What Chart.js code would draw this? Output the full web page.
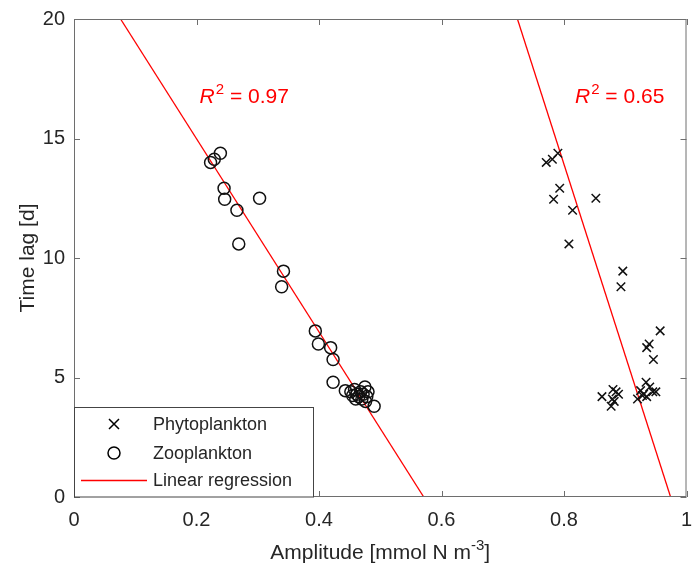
<!DOCTYPE html>
<html>
<head>
<meta charset="utf-8">
<script src="https://cdn.jsdelivr.net/npm/chart.js@4"></script>
<style>
  html, body { margin: 0; padding: 0; background: #fff; }
  #wrap { width: 694px; height: 574px; }
</style>
</head>
<body>
<div id="wrap"><canvas id="lagChart" width="694" height="574"></canvas></div>
<script>
// time lag per station (shared by both groups)
const lagDays = [14.0, 14.13, 14.38, 12.92, 12.46, 12.5, 12.0, 10.59, 9.45, 8.8,
  6.95, 6.4, 6.25, 5.75, 4.8, 4.45, 4.4, 4.5, 4.3, 4.2,
  4.4, 4.1, 4.3, 4.6, 4.2, 4.4, 3.8, 4.0, 4.25, 4.1];
const zooAmp = [0.223, 0.229, 0.239, 0.245, 0.246, 0.303, 0.266, 0.269, 0.342, 0.339,
  0.394, 0.399, 0.419, 0.423, 0.423, 0.443, 0.452, 0.458, 0.462, 0.465,
  0.468, 0.470, 0.472, 0.475, 0.478, 0.480, 0.490, 0.476, 0.455, 0.460];
const phytoAmp = [0.771, 0.781, 0.790, 0.793, 0.783, 0.852, 0.814, 0.808, 0.896, 0.893,
  0.957, 0.939, 0.935, 0.946, 0.934, 0.925, 0.950, 0.880, 0.889, 0.862,
  0.885, 0.879, 0.930, 0.940, 0.935, 0.945, 0.877, 0.882, 0.928, 0.920];

// regression line end points
const regLag = [20, 0];
const regZooAmp = [0.076, 0.571];
const regPhytoAmp = [0.724, 0.974];
const r2Values = ["0.97", "0.65"];

const xTicks = [0, 0.2, 0.4, 0.6, 0.8, 1];
const yTicks = [0, 5, 10, 15, 20];

const FONT = "'Liberation Sans', Arial, Helvetica, sans-serif";
const AXIS_COLOR = "#6e6e6e";
const TEXT_COLOR = "#262626";

const toPoints = (xs, ys) => xs.map((v, i) => ({ x: v, y: ys[i] }));

// box, inward ticks, axis titles, R^2 labels and legend (MATLAB look)
const matlabAxes = {
  id: "matlabAxes",
  afterDraw(chart) {
    const { ctx, chartArea: { left, right, top, bottom }, scales: { x, y } } = chart;
    ctx.save();
    ctx.strokeStyle = AXIS_COLOR;
    ctx.lineWidth = 1;
    ctx.strokeRect(left + 0.5, top + 0.5, right - left - 1, bottom - top - 1);
    ctx.beginPath();
    xTicks.forEach(v => {
      const px = Math.round(x.getPixelForValue(v)) + 0.5;
      ctx.moveTo(px, bottom); ctx.lineTo(px, bottom - 6);
      ctx.moveTo(px, top); ctx.lineTo(px, top + 6);
    });
    yTicks.forEach(v => {
      const py = Math.round(y.getPixelForValue(v)) + 0.5;
      ctx.moveTo(left, py); ctx.lineTo(left + 6, py);
      ctx.moveTo(right, py); ctx.lineTo(right - 6, py);
    });
    ctx.stroke();

    // x title with superscript
    ctx.fillStyle = TEXT_COLOR;
    ctx.textBaseline = "alphabetic";
    const xMain = "Amplitude [mmol N m";
    const xSup = "-3";
    const xEnd = "]";
    ctx.font = `21px ${FONT}`;
    const w1 = ctx.measureText(xMain).width;
    const w3 = ctx.measureText(xEnd).width;
    ctx.font = `15px ${FONT}`;
    const w2 = ctx.measureText(xSup).width;
    let tx = (left + right) / 2 - (w1 + w2 + w3) / 2;
    const ty = 559;
    ctx.textAlign = "left";
    ctx.font = `21px ${FONT}`;
    ctx.fillText(xMain, tx, ty);
    ctx.font = `15px ${FONT}`;
    ctx.fillText(xSup, tx + w1, ty - 9);
    ctx.font = `21px ${FONT}`;
    ctx.fillText(xEnd, tx + w1 + w2, ty);

    // y title
    ctx.save();
    ctx.translate(34, (top + bottom) / 2);
    ctx.rotate(-Math.PI / 2);
    ctx.textAlign = "center";
    ctx.fillText("Time lag [d]", 0, 0);
    ctx.restore();

    // R^2 labels
    const r2At = [[0.205, 16.5], [0.818, 16.5]];
    ctx.fillStyle = "#ff0000";
    r2At.forEach((p, i) => {
      let px = x.getPixelForValue(p[0]);
      const py = y.getPixelForValue(p[1]);
      ctx.font = `italic 21px ${FONT}`;
      ctx.fillText("R", px, py);
      px += ctx.measureText("R").width + 1;
      ctx.font = `15px ${FONT}`;
      ctx.fillText("2", px, py - 9);
      px += ctx.measureText("2").width;
      ctx.font = `21px ${FONT}`;
      ctx.fillText(" = " + r2Values[i], px, py);
    });

    // legend
    const lw = 239, lh = 90;
    const lx = left, ly = bottom - lh;
    ctx.fillStyle = "#fff";
    ctx.fillRect(lx, ly, lw, lh);
    ctx.strokeStyle = "#444";
    ctx.strokeRect(lx + 0.5, ly + 0.5, lw, lh - 0.5);
    const rows = [bottom - 73, bottom - 44, bottom - 17];
    const mx = lx + 40;
    ctx.lineWidth = 1.5;
    ctx.strokeStyle = "#000";
    // cross
    ctx.beginPath();
    ctx.moveTo(mx - 5, rows[0] - 5); ctx.lineTo(mx + 5, rows[0] + 5);
    ctx.moveTo(mx + 5, rows[0] - 5); ctx.lineTo(mx - 5, rows[0] + 5);
    ctx.stroke();
    // circle
    ctx.beginPath();
    ctx.arc(mx, rows[1], 6, 0, Math.PI * 2);
    ctx.stroke();
    // line
    ctx.strokeStyle = "#ff0000";
    ctx.lineWidth = 1.3;
    ctx.beginPath();
    ctx.moveTo(lx + 7, rows[2] + 0.5); ctx.lineTo(lx + 73, rows[2] + 0.5);
    ctx.stroke();
    ctx.fillStyle = TEXT_COLOR;
    ctx.font = `18px ${FONT}`;
    ctx.textAlign = "left";
    ctx.textBaseline = "middle";
    ["Phytoplankton", "Zooplankton", "Linear regression"].forEach((t, i) => {
      ctx.fillText(t, lx + 79, rows[i] + 1);
    });
    ctx.restore();
  }
};

const ctx = document.getElementById("lagChart").getContext("2d");
new Chart(ctx, {
  type: "scatter",
  data: {
    datasets: [
      {
        label: "Phytoplankton",
        data: toPoints(phytoAmp, lagDays),
        pointStyle: "crossRot",
        pointRadius: 6,
        pointBorderWidth: 1.5,
        borderColor: "#111",
        backgroundColor: "#111",
        pointHoverRadius: 6
      },
      {
        label: "Zooplankton",
        data: toPoints(zooAmp, lagDays),
        pointStyle: "circle",
        pointRadius: 6,
        pointBorderWidth: 1.5,
        borderColor: "#111",
        backgroundColor: "rgba(0,0,0,0)",
        pointHoverRadius: 6
      },
      {
        label: "Linear regression",
        type: "line",
        data: toPoints(regZooAmp, regLag),
        borderColor: "#ff0000",
        borderWidth: 1.3,
        pointRadius: 0,
        fill: false
      },
      {
        label: "Linear regression (phyto)",
        type: "line",
        data: toPoints(regPhytoAmp, regLag),
        borderColor: "#ff0000",
        borderWidth: 1.3,
        pointRadius: 0,
        fill: false
      }
    ]
  },
  options: {
    responsive: false,
    animation: false,
    events: [],
    layout: { padding: { top: 19, right: 2, left: 0, bottom: 0 } },
    plugins: {
      legend: { display: false },
      tooltip: { enabled: false }
    },
    scales: {
      x: {
        type: "linear",
        min: 0,
        max: 1,
        afterBuildTicks: s => { s.ticks = xTicks.map(v => ({ value: v })); },
        afterFit: s => { s.height = 77; s.paddingLeft = 0; s.paddingRight = 0; },
        grid: { display: false, drawTicks: false },
        border: { display: false },
        ticks: {
          color: TEXT_COLOR,
          font: { size: 20, family: FONT },
          padding: 11,
          maxRotation: 0,
          callback: v => String(+v.toFixed(1))
        }
      },
      y: {
        type: "linear",
        min: 0,
        max: 20,
        afterBuildTicks: s => { s.ticks = yTicks.map(v => ({ value: v })); },
        afterFit: s => { s.width = 74; s.paddingTop = 0; s.paddingBottom = 0; },
        grid: { display: false, drawTicks: false },
        border: { display: false },
        ticks: {
          color: TEXT_COLOR,
          font: { size: 20, family: FONT },
          padding: 9
        }
      }
    }
  },
  plugins: [matlabAxes]
});
</script>
</body>
</html>
